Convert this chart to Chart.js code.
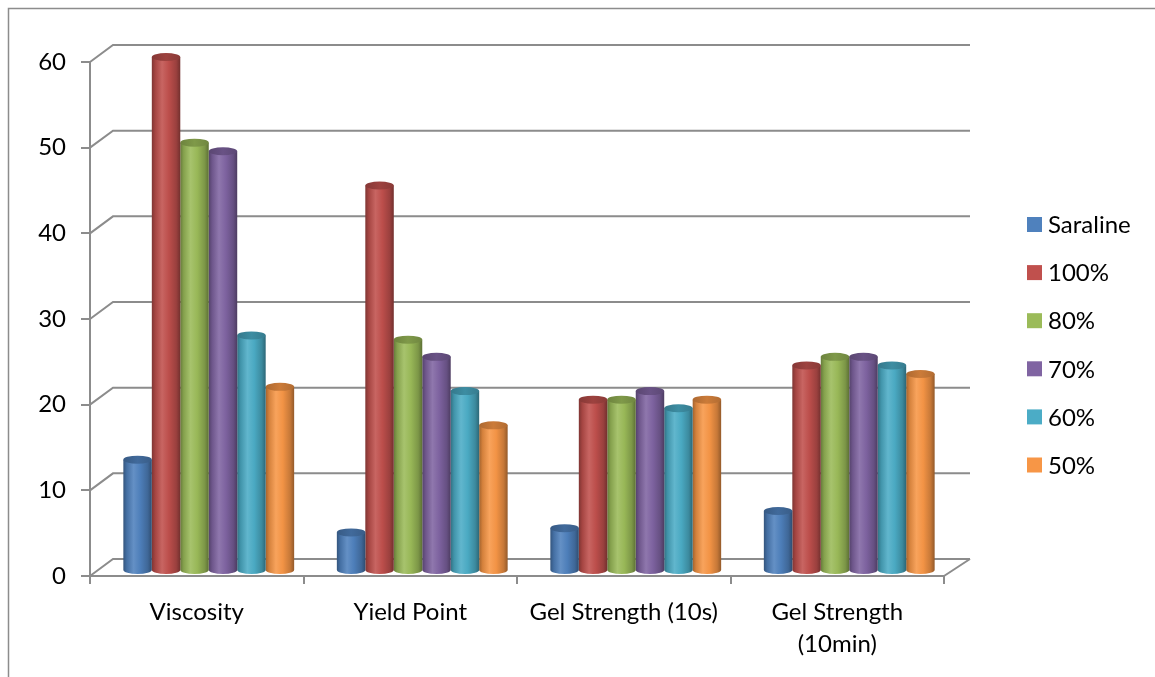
<!DOCTYPE html>
<html>
<head>
<meta charset="utf-8">
<title>Rheological properties</title>
<script src="https://cdn.jsdelivr.net/npm/chart.js@4.4.1/dist/chart.umd.min.js"></script>
<style>
  html, body { margin: 0; padding: 0; background: #ffffff; }
  #wrap { width: 1155px; height: 677px; position: relative; }
</style>
</head>
<body>
<div id="wrap"><canvas id="chart" width="1155" height="677"></canvas></div>
<script>
// ---- data ----
const categories = ['Viscosity', 'Yield Point', 'Gel Strength (10s)', ['Gel Strength', '(10min)']];
const seriesNames = ['Saraline', '100%', '80%', '70%', '60%', '50%'];
const saraline = [13, 4.5, 5, 7];
const pct100 = [60, 45, 20, 24];
const pct80 = [50, 27, 20, 25];
const pct70 = [49, 25, 21, 25];
const pct60 = [27.5, 21, 19, 24];
const pct50 = [21.5, 17, 20, 23];
const yMin = 0, yMax = 60, yStep = 10;

const seriesValues = [saraline, pct100, pct80, pct70, pct60, pct50];
const seriesColors = ['#4F81BD', '#C0504D', '#9BBB59', '#8064A2', '#4BACC6', '#F79646'];

// ---- drawing helpers ----
const LINE = '#8c8c8c';
const FONT = 'Lato, "Open Sans", sans-serif';
const FONT_SIZE = 24;

function shade(hex, f) {
  const n = parseInt(hex.slice(1), 16);
  let r = (n >> 16) & 255, g = (n >> 8) & 255, b = n & 255;
  if (f <= 1) { r *= f; g *= f; b *= f; }
  else { const t = (f - 1) * 2; r += (255 - r) * t; g += (255 - g) * t; b += (255 - b) * t; }
  return `rgb(${Math.round(r)},${Math.round(g)},${Math.round(b)})`;
}

// perspective of the walls and floor
const wallDx = 23, wallDy = 17, wallRight = 970;
// columns stand part way into the floor
const colShiftX = 12, colShiftY = -5, capRy = 4;

const framePlugin = {
  id: 'frame',
  beforeDraw(chart) {
    const ctx = chart.ctx;
    ctx.save();
    ctx.strokeStyle = LINE;
    ctx.lineWidth = 1.5;
    ctx.strokeRect(8.5, 8.5, 1300, 800);
    ctx.restore();
  }
};

const wallPlugin = {
  id: 'walls',
  beforeDatasetsDraw(chart) {
    const ctx = chart.ctx;
    const ys = chart.scales.y;
    const area = chart.chartArea;
    ctx.save();
    ctx.strokeStyle = LINE;
    ctx.lineWidth = 2;
    ctx.lineJoin = 'miter';
    ys.ticks.forEach(t => {
      const yf = ys.getPixelForValue(t.value);
      ctx.beginPath();
      ctx.moveTo(area.left, yf);
      ctx.lineTo(area.left + wallDx, yf - wallDy);
      ctx.lineTo(wallRight, yf - wallDy);
      ctx.stroke();
    });
    // right edge of the floor
    const y0 = ys.getPixelForValue(yMin);
    ctx.beginPath();
    ctx.moveTo(area.right, y0);
    ctx.lineTo(wallRight, y0 - wallDy);
    ctx.stroke();
    ctx.restore();
  }
};

const cylinderPlugin = {
  id: 'cylinders',
  beforeDatasetDraw(chart, args) {
    const ctx = chart.ctx;
    const meta = args.meta;
    const color = chart.data.datasets[args.index].backgroundColor;
    ctx.save();
    ctx.translate(colShiftX, colShiftY);
    meta.data.forEach(el => {
      const p = el.getProps(['x', 'y', 'base', 'width'], true);
      const rx = p.width / 2;
      const x = p.x, top = p.y, base = p.base;
      // body
      const g = ctx.createLinearGradient(x - rx, 0, x + rx, 0);
      g.addColorStop(0, shade(color, 0.66));
      g.addColorStop(0.12, shade(color, 0.86));
      g.addColorStop(0.36, shade(color, 1.06));
      g.addColorStop(0.6, shade(color, 0.98));
      g.addColorStop(0.86, shade(color, 0.8));
      g.addColorStop(1, shade(color, 0.6));
      ctx.beginPath();
      ctx.moveTo(x - rx, top);
      ctx.lineTo(x - rx, base);
      ctx.ellipse(x, base, rx, capRy, 0, Math.PI, 0, true);
      ctx.lineTo(x + rx, top);
      ctx.closePath();
      ctx.fillStyle = g;
      ctx.fill();
      // top cap
      const gc = ctx.createLinearGradient(x - rx, 0, x + rx, 0);
      gc.addColorStop(0, shade(color, 0.7));
      gc.addColorStop(0.5, shade(color, 0.82));
      gc.addColorStop(1, shade(color, 0.72));
      ctx.beginPath();
      ctx.ellipse(x, top, rx, capRy, 0, 0, Math.PI * 2);
      ctx.fillStyle = gc;
      ctx.fill();
    });
    ctx.restore();
    return false;
  }
};

const sideLegendPlugin = {
  id: 'sideLegend',
  afterDraw(chart) {
    const ctx = chart.ctx;
    ctx.save();
    ctx.font = `${FONT_SIZE}px ${FONT}`;
    ctx.textBaseline = 'middle';
    ctx.textAlign = 'left';
    chart.data.datasets.forEach((ds, i) => {
      const cy = 224.5 + i * 48.1;
      ctx.fillStyle = ds.backgroundColor;
      ctx.fillRect(1027, cy - 7.5, 15, 15);
      ctx.fillStyle = '#000';
      ctx.fillText(ds.label, 1048, cy + 1);
    });
    ctx.restore();
  }
};

Chart.defaults.font.family = FONT;
Chart.defaults.font.size = FONT_SIZE;
Chart.defaults.color = '#000';

new Chart(document.getElementById('chart'), {
  type: 'bar',
  data: {
    labels: categories,
    datasets: seriesNames.map((name, i) => ({
      label: name,
      data: seriesValues[i],
      backgroundColor: seriesColors[i],
      borderWidth: 0,
      categoryPercentage: 0.8,
      barPercentage: 1.0
    }))
  },
  options: {
    responsive: false,
    devicePixelRatio: 1,
    animation: false,
    layout: { padding: { top: 62, right: 211, bottom: 0, left: 0 } },
    plugins: {
      legend: { display: false },
      tooltip: { enabled: false }
    },
    scales: {
      x: {
        grid: { offset: true, drawOnChartArea: false, drawTicks: true, tickLength: 8, color: LINE, lineWidth: 2 },
        border: { display: true, color: LINE, width: 2 },
        ticks: { padding: 13, maxRotation: 0, autoSkip: false, font: { size: FONT_SIZE, lineHeight: 1.3 } },
        afterFit(s) { s.height = 101; }
      },
      y: {
        min: yMin,
        max: yMax,
        grid: { drawOnChartArea: false, drawTicks: true, tickLength: 9, color: LINE, lineWidth: 2 },
        border: { display: true, color: LINE, width: 2 },
        ticks: { stepSize: yStep, padding: 15, font: { size: FONT_SIZE } },
        afterFit(s) { s.width = 90; }
      }
    }
  },
  plugins: [framePlugin, wallPlugin, cylinderPlugin, sideLegendPlugin]
});
</script>
</body>
</html>
